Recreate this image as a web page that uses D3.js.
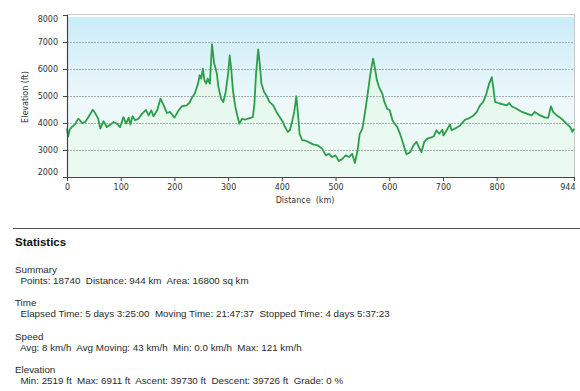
<!DOCTYPE html>
<html lang="en">
<head>
<meta charset="UTF-8" />
<title>Elevation profile</title>
<script src="https://d3js.org/d3.v7.min.js"></script>
<style>
  * { margin: 0; padding: 0; box-sizing: border-box; }
  body { background: #fff; width: 580px; height: 391px; overflow: hidden; }
  .tick-label { font-family: "DejaVu Sans", Verdana, sans-serif; font-size: 8px; fill: #333; }
  .axis-label { font-family: "DejaVu Sans", Verdana, sans-serif; font-size: 8px; fill: #333; }
  .stats-title { font-family: "Liberation Sans", Arial, sans-serif; font-size: 11.5px; font-weight: bold; fill: #111; }
  .stats-text { font-family: "Liberation Sans", Arial, sans-serif; font-size: 9.8px; fill: #2a2a2a; white-space: pre; }
</style>
</head>
<body>
<div id="chart"></div>
<script>
// elevation profile
const distanceKm = [0, 2, 5, 9, 15, 21, 25, 28, 34, 40, 48, 53, 58, 62, 68, 74, 81, 87, 93, 99,
  105, 110, 115, 118, 122, 127, 133, 140, 147, 152, 157, 161, 168, 174, 180, 186, 192, 200, 208, 214,
  223, 228, 233, 238, 244, 247, 250, 253, 256, 259, 262, 266, 270, 274, 276, 279, 282, 287, 291, 295,
  300, 303, 306, 309, 313, 317, 321, 326, 331, 337, 346, 349, 352, 356, 359, 362, 367, 371, 377, 384,
  390, 396, 402, 406, 411, 415, 419, 423, 427, 430, 433, 438, 442, 449, 458, 467, 475, 482, 488, 494,
  500, 506, 513, 519, 525, 531, 536, 541, 545, 550, 554, 559, 564, 567, 570, 573, 577, 581, 587, 591,
  596, 601, 606, 610, 615, 620, 624, 629, 632, 639, 645, 651, 655, 660, 665, 671, 677, 683, 688, 693,
  699, 701, 707, 713, 716, 722, 732, 741, 747, 757, 763, 769, 775, 781, 786, 791, 794, 797, 803, 812,
  819, 823, 828, 837, 847, 856, 865, 871, 881, 890, 896, 901, 905, 912, 918, 924, 930, 937, 941, 944];

const elevationFt = [3800, 3500, 3750, 3850, 3950, 4160, 4080, 4000, 4040, 4220, 4490, 4350, 4160, 3790, 4070, 3850, 3940, 4040, 3975, 3850,
  4220, 3975, 4200, 3940, 4250, 4100, 4160, 4350, 4490, 4280, 4470, 4250, 4470, 4900, 4650, 4370, 4410, 4200, 4470, 4620,
  4650, 4750, 4950, 5090, 5460, 5770, 5640, 6010, 5580, 5460, 5640, 5460, 6911, 6200, 6070, 5830, 5330, 4900, 4780, 5090,
  5830, 6500, 5940, 5210, 4650, 4280, 3975, 4160, 4120, 4160, 4220, 4720, 5830, 6730, 6170, 5460, 5150, 5030, 4780, 4650,
  4410, 4220, 4040, 3850, 3670, 3730, 4040, 4410, 4990, 4350, 3600, 3360, 3360, 3300, 3210, 3170, 3050, 2800, 2860, 2740,
  2800, 2590, 2680, 2800, 2740, 2860, 2519, 2980, 3600, 3790, 4280, 4960, 5700, 6070, 6380, 6070, 5580, 5330, 5090, 4780,
  4530, 4470, 4100, 3975, 3850, 3600, 3360, 3040, 2840, 2920, 3170, 3300, 3110, 2920, 3300, 3420, 3460, 3510, 3730, 3600,
  3750, 3540, 3730, 3950, 3730, 3790, 3910, 4120, 4160, 4280, 4410, 4650, 4780, 5090, 5460, 5700, 5270, 4780, 4740, 4690,
  4650, 4740, 4620, 4530, 4410, 4350, 4280, 4410, 4280, 4200, 4200, 4620, 4410, 4280, 4200, 4100, 3975, 3850, 3670, 3790];

const yTicks = [2000, 3000, 4000, 5000, 6000, 7000, 8000];
const xTicks = [0, 100, 200, 300, 400, 500, 600, 700, 800, 944];
const gridValues = [3000, 4000, 5000, 6000, 7000];

const statHeaders = ["Summary", "Time", "Speed", "Elevation"];
const statLines = [
  "Points: 18740  Distance: 944 km  Area: 16800 sq km",
  "Elapsed Time: 5 days 3:25:00  Moving Time: 21:47:37  Stopped Time: 4 days 5:37:23",
  "Avg: 8 km/h  Avg Moving: 43 km/h  Min: 0.0 km/h  Max: 121 km/h",
  "Min: 2519 ft  Max: 6911 ft  Ascent: 39730 ft  Descent: 39726 ft  Grade: 0 %"
];

const W = 580, H = 391;
const plot = { left: 67, right: 574, top: 15, bottom: 177 };

const svg = d3.select("#chart").append("svg")
  .attr("width", W).attr("height", H);

const x = d3.scaleLinear().domain([0, 944]).range([plot.left, plot.right]);
const y = d3.scaleLinear().domain([2000, 8000]).range([plot.bottom, plot.top]);

const defs = svg.append("defs");
const bg = defs.append("linearGradient").attr("id", "bg")
  .attr("x1", 0).attr("y1", 0).attr("x2", 0).attr("y2", 1);
bg.append("stop").attr("offset", "0%").attr("stop-color", "#cbecf8");
bg.append("stop").attr("offset", "55%").attr("stop-color", "#eef8fb");
bg.append("stop").attr("offset", "100%").attr("stop-color", "#e9f9ef");

const fillGrad = defs.append("linearGradient").attr("id", "under")
  .attr("x1", 0).attr("y1", 0).attr("x2", 0).attr("y2", 1);
fillGrad.append("stop").attr("offset", "0%").attr("stop-color", "#dff5e6");
fillGrad.append("stop").attr("offset", "100%").attr("stop-color", "#ecfbf1");

// plot background
svg.append("rect")
  .attr("x", plot.left).attr("y", plot.top + 2)
  .attr("width", plot.right - plot.left).attr("height", plot.bottom - plot.top - 2)
  .attr("fill", "url(#bg)");

// top and right frame
svg.append("path")
  .attr("d", `M${plot.left},${plot.top - 0.5}H${plot.right + 0.5}V${plot.bottom}`)
  .attr("fill", "none").attr("stroke", "#c8c8c8").attr("stroke-width", 1);

const pts = distanceKm.map((d, i) => [d, elevationFt[i]]);

svg.append("path")
  .datum(pts)
  .attr("fill", "url(#under)")
  .attr("opacity", 0.85)
  .attr("d", d3.area().x(d => x(d[0])).y0(plot.bottom).y1(d => y(d[1])));

// grid
svg.selectAll(".grid").data(gridValues).enter().append("line")
  .attr("x1", plot.left).attr("x2", plot.right)
  .attr("y1", d => Math.round(y(d)) + 0.5).attr("y2", d => Math.round(y(d)) + 0.5)
  .attr("stroke", "#a9b0b5").attr("stroke-width", 1)
  .attr("stroke-dasharray", "2,1");

// elevation line
svg.append("path")
  .datum(pts)
  .attr("fill", "none")
  .attr("stroke", "#2b9e4a")
  .attr("stroke-width", 1.8)
  .attr("stroke-linejoin", "round")
  .attr("d", d3.line().x(d => x(d[0])).y(d => y(d[1])));

// left axis
const yAxis = svg.append("g")
  .attr("transform", `translate(${plot.left},0)`)
  .call(d3.axisLeft(y).tickValues(yTicks).tickSize(4).tickPadding(5).tickFormat(d3.format("d")));
yAxis.select(".domain").attr("stroke", "#444").attr("stroke-width", 1.2);
yAxis.selectAll(".tick line").attr("stroke", "#444");
yAxis.selectAll(".tick text").attr("class", "tick-label").attr("fill", null)
  .attr("y", d => d === 8000 ? 4 : d === 2000 ? -5 : 0);

// bottom axis
const xAxis = svg.append("g")
  .attr("transform", `translate(0,${plot.bottom})`)
  .call(d3.axisBottom(x).tickValues(xTicks).tickSize(4).tickSizeOuter(0).tickPadding(3).tickFormat(d3.format("d")));
xAxis.select(".domain").attr("stroke", "#444").attr("stroke-width", 1.2);
xAxis.selectAll(".tick line").attr("stroke", "#444");
xAxis.selectAll(".tick text").attr("class", "tick-label").attr("fill", null)
  .attr("text-anchor", d => d === 944 ? "end" : "middle")
  .attr("x", d => d === 944 ? 1 : 0);

svg.append("text")
  .attr("class", "axis-label")
  .attr("transform", "translate(28,97) rotate(-90)")
  .attr("text-anchor", "middle")
  .text("Elevation (ft)");

svg.append("text")
  .attr("class", "axis-label")
  .attr("x", 305).attr("y", 203)
  .attr("text-anchor", "middle")
  .style("white-space", "pre")
  .text("Distance  (km)");

// statistics block
svg.append("line")
  .attr("x1", 13).attr("x2", 580).attr("y1", 228.5).attr("y2", 228.5)
  .attr("stroke", "#555").attr("stroke-width", 1.2);

svg.append("text")
  .attr("class", "stats-title")
  .attr("x", 15).attr("y", 246)
  .text("Statistics");

statHeaders.forEach((h, i) => {
  const top = 272.5 + i * 33.5;
  svg.append("text").attr("class", "stats-text").attr("x", 15).attr("y", top).text(h);
  svg.append("text").attr("class", "stats-text").attr("x", 15).attr("y", top + 11.3).text("  " + statLines[i]);
});
</script>
</body>
</html>
